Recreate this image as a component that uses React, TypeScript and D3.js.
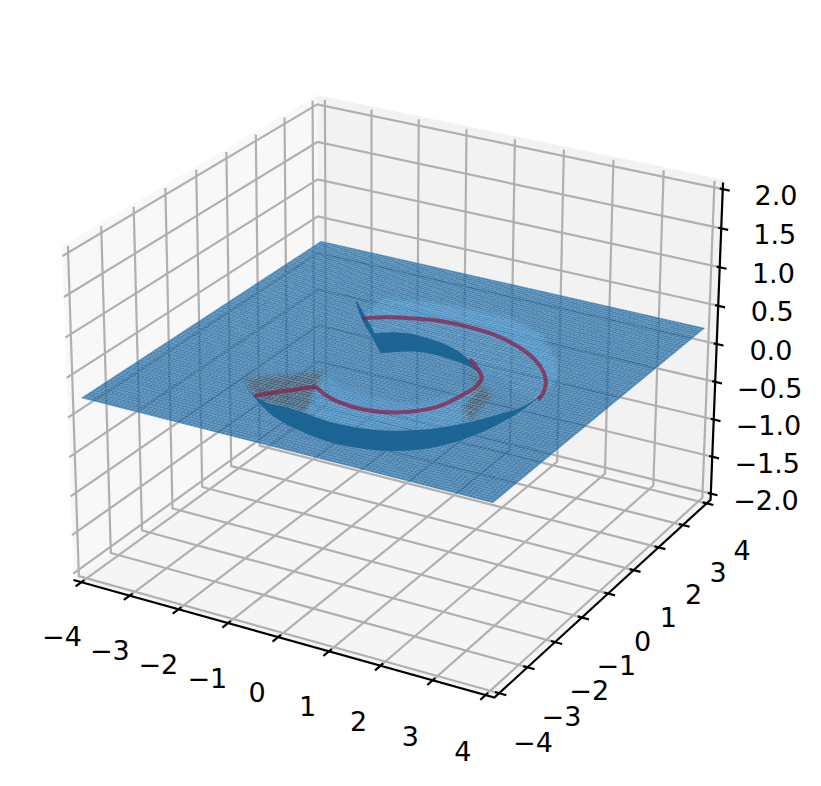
import React from "react";
import * as d3 from "d3";

const xTicks = [-4,-3,-2,-1,0,1,2,3,4];
const yTicks = [-4,-3,-2,-1,0,1,2,3,4];
const zTicks = [-2,-1.5,-1,-0.5,0,0.5,1,1.5,2];
type Pt=[number,number];
// curve and fold outlines, in data units on the surface
const redOuter:Pt[]=[[-1.45,1.27],[-1.38,1.37],[-1.09,1.57],[-0.65,1.76],[-0.17,1.90],[0.36,1.92],[0.95,1.84],[1.54,1.61],[2.06,1.26],[2.45,0.85],[2.67,0.50],[2.82,0.11],[2.87,-0.17]];
const redInner:Pt[]=[[-1.42,-2.45],[-1.15,-2.10],[-0.70,-1.61],[-0.38,-1.82],[-0.03,-1.95],[0.46,-2.00],[0.91,-1.87],[1.28,-1.60],[1.55,-1.16],[1.65,-0.64],[1.69,-0.23],[1.60,0.14],[1.35,0.45],[1.05,0.71]];
const frontWallLower:Pt[]=[[-1.99,-1.96],[-1.36,-2.53],[-0.76,-2.96],[-0.14,-3.21],[0.61,-3.37],[1.23,-3.31],[1.85,-3.05],[2.26,-2.64],[2.56,-2.02],[2.73,-1.40],[2.82,-0.74],[2.84,0.12]];
const frontWallUpper:Pt[]=[[2.84,0.12],[2.77,-0.54],[2.54,-1.05],[2.21,-1.63],[1.83,-2.10],[1.37,-2.44],[0.84,-2.64],[0.21,-2.70],[-0.30,-2.62],[-0.74,-2.56],[-1.05,-2.59],[-1.42,-2.45],[-1.99,-1.96]];
const upperWallTop:Pt[]=[[-0.94,0.84],[-0.65,1.06],[-0.22,1.14],[0.37,1.05],[0.93,0.77],[1.55,0.24]];
const upperWallBottom:Pt[]=[[1.55,0.24],[1.19,0.44],[0.65,0.56],[0.07,0.52],[-0.43,0.15]];
const upperWallTip:Pt[]=[[-0.43,0.15],[-0.92,0.69],[-1.43,1.23],[-1.97,1.93],[-1.50,1.44],[-0.94,0.84]];
const outerSlope:Pt[]=[[-1.61,2.23],[-0.80,2.52],[-0.03,2.63],[0.86,2.63],[1.66,2.26],[2.43,1.39],[2.75,0.78],[2.83,0.20]];
const grayRight:Pt[]=[[1.19,0.20],[2.10,-0.38],[2.25,-1.53],[1.85,-0.99],[1.75,-0.27],[1.69,-0.23],[1.60,0.14]];
const grayLeft:Pt[]=[[-1.96,-1.94],[-0.87,-1.00],[-0.70,-1.61],[-0.31,-2.55],[-1.05,-2.59],[-1.42,-2.45]];
const innerSlope:Pt[]=[[-0.86,-1.07],[-0.69,-1.13],[-0.25,-1.42],[0.28,-1.47],[0.80,-1.45],[1.13,-1.33],[1.42,-0.93],[1.56,-0.46]];
const lowerSlopeEdge:Pt[]=[[2.25,-1.53],[1.83,-2.10],[1.37,-2.44],[0.84,-2.64],[0.21,-2.70],[-0.30,-2.62]];
const upperInnerEdge:Pt[]=[[2.55,-0.12],[1.76,0.37],[1.55,0.24],[0.93,0.77],[0.37,1.05],[-0.22,1.14],[-0.65,1.06],[-0.94,0.84]];

const EX = 4+8/48, EZ = 2+4/48;
const PZ = 0.228;
const FOLD_DX = -0.06;
// perspective camera fitted to the picture: rows give screen x, screen y, depth
const CAM = [[386.24,272.67,-3.3,81],[78.71,-132.47,-83.2,398],[-0.05226,0.10177,-0.009,1]];
const uS=d3.scaleLinear().domain([-4,4]).range([0,1]);
const vS=d3.scaleLinear().domain([-4,4]).range([0,1]);
const sS=d3.scaleLinear().domain([PZ,PZ+1]).range([0,1]);
const P=(x:number,y:number,z:number):[number,number]=>{
  const q=[uS(x),vS(y),sS(z),1];
  const r=CAM.map(row=>d3.sum(row.map((c,i)=>c*q[i])));
  return [r[0]/r[2],r[1]/r[2]];
};
const fmt=(v:number)=>(v<0?"\u2212":"")+Math.abs(v);
const fmtZ=(v:number)=>(v<0?"\u2212":"")+Math.abs(v).toFixed(1);
const line=d3.line();
const curve=d3.line().curve(d3.curveCatmullRom.alpha(0.5));
const poly=(pts:[number,number,number][])=>line(pts.map(p=>P(p[0],p[1],p[2])))+"Z";
const on=(pts:Pt[])=>pts.map(p=>P(p[0]+FOLD_DX,p[1],PZ));
const area=(pts:Pt[])=>line(on(pts))+"Z";
const arcs=(...parts:Pt[][])=>parts.map((p,i)=>{const s=curve(on(p))!;return i===0?s:s.replace(/^M/,"L")}).join("")+"Z";
const G=EX, D=EX, DZ=EZ+.04;
const mesh=d3.range(-4,4.001,0.08);
const coarse=d3.range(-4,4.001,0.24);
const rev=(a:Pt[])=>[...a].reverse();
export default function App(){
 const mx=mesh.map(v=>line([P(v,-4,PZ),P(v,4,PZ)])).join("");
 const my=mesh.map(v=>line([P(-4,v,PZ),P(4,v,PZ)])).join("");
 const cx=coarse.map(v=>line([P(v,-4,PZ),P(v,4,PZ)])).join("");
 const cy=coarse.map(v=>line([P(-4,v,PZ),P(4,v,PZ)])).join("");
 return <svg width={821} height={786} style={{position:"absolute",left:0,top:0,background:"#fff",fontFamily:"DejaVu Sans"}}>
  <defs>
   <filter id="soft" x="-20%" y="-20%" width="140%" height="140%"><feGaussianBlur stdDeviation={2}/></filter>
   <clipPath id="grayClip"><path d={area(grayRight)}/><path d={area(grayLeft)}/></clipPath>
   <clipPath id="ringClip"><path d={area([...outerSlope,...rev(redOuter)])}/><path d={area([...redOuter,...upperInnerEdge])}/><path d={area([...redInner.slice(2,12),...lowerSlopeEdge])}/></clipPath>
  </defs>
  <path d={poly([[-D,-D,-EZ],[-D,D,-EZ],[-D,D,DZ],[-D,-D,DZ]])} fill="#f2f2f2" fillOpacity={.5}/>
  <path d={poly([[-D,D,-EZ],[D,D,-EZ],[D,D,DZ],[-D,D,DZ]])} fill="#e6e6e6" fillOpacity={.5}/>
  <path d={poly([[-D,-D,-EZ],[D,-D,-EZ],[D,D,-EZ],[-D,D,-EZ]])} fill="#ececec" fillOpacity={.5}/>
  <g fill="none" stroke="#b0b0b0" strokeWidth={2.2}>
   {xTicks.map(t=><path key={t} d={line([P(t,-G,-EZ),P(t,G,-EZ),P(t,G,EZ)])!}/>)}
   {yTicks.map(t=><path key={t} d={line([P(G,t,-EZ),P(-G,t,-EZ),P(-G,t,EZ)])!}/>)}
   {zTicks.map(t=><path key={t} d={line([P(-G,-G,t),P(-G,G,t),P(G,G,t)])!}/>)}
  </g>
  <g fill="none" stroke="#000" strokeWidth={2.2}>
   <path d={line([P(-G,-G,-EZ),P(G,-G,-EZ),P(G,G,-EZ),P(G,G,EZ)])!}/>
   {xTicks.map(t=><path key={t} d={line([P(t,-G+.09,-EZ),P(t,-G-.18,-EZ)])!}/>)}
   {yTicks.map(t=><path key={t} d={line([P(G-.08,t,-EZ),P(G+.135,t,-EZ)])!}/>)}
   {zTicks.map(t=><path key={t} d={line([P(G-.06,G,t),P(G+.135,G,t)])!}/>)}
  </g>
  <g fontSize={27} fill="#000" textAnchor="middle">
   {xTicks.map(t=>{const p=P(t,-G,-EZ);return <text key={t} x={p[0]-21-.39*t} y={p[1]+55+.25*t} dy=".36em">{fmt(t)}</text>})}
   {yTicks.map(t=>{const p=P(G,t,-EZ);return <text key={t} x={p[0]+34.6+.19*t} y={p[1]+47.8-.26*t} dy=".36em">{fmt(t)}</text>})}
   {zTicks.map(t=>{const p=P(G,G,t);return <text key={t} x={p[0]+54.2-.5*t} y={p[1]+6-.12*t} dy=".36em">{fmtZ(t)}</text>})}
  </g>
  <path d={poly([[-4,-4,PZ],[4,-4,PZ],[4,4,PZ],[-4,4,PZ]])} fill="#0a5590" fillOpacity={.72}/>
  <g stroke="none" filter="url(#soft)">
   <path d={area([...outerSlope,...rev(redOuter)])} fill="#5aa9e0" fillOpacity={.4}/>
   <path d={area([...redOuter,...upperInnerEdge])} fill="#5aa9e0" fillOpacity={.12}/>
   <path d={area([[-0.70,-1.61],...innerSlope,...rev(redInner.slice(3,10))])} fill="#5aa9e0" fillOpacity={.3}/>
   <path d={area([...redInner.slice(2,12),...lowerSlopeEdge])} fill="#5aa9e0" fillOpacity={.3}/>
   <path d={area(grayRight)} fill="#46545f" fillOpacity={.7}/>
   <path d={area(grayLeft)} fill="#46545f" fillOpacity={.7}/>
  </g>
  <path d={mx+my} stroke="#b0d8f4" strokeOpacity={.24} strokeWidth={1} fill="none" shapeRendering="crispEdges"/>
  <path d={cx+cy} stroke="#d8ecf8" strokeOpacity={.12} strokeWidth={1} fill="none" clipPath="url(#grayClip)"/>
  <path d={cx+cy} stroke="#d8ecf8" strokeOpacity={.1} strokeWidth={1} fill="none" clipPath="url(#ringClip)"/>
  <path d={arcs(upperWallTop,upperWallBottom,upperWallTip)} fill="#1a6393" fillOpacity={.96}/>
  <path d={arcs(frontWallLower,frontWallUpper)} fill="#1a6393" fillOpacity={.96}/>
  <g fill="none" stroke="#8f1a45" strokeOpacity={.7} strokeWidth={4} strokeLinejoin="round">
   <path d={curve(on(redOuter))!}/>
   <path d={line(on(redInner.slice(0,3)))!}/>
   <path d={curve(on(redInner.slice(2)))!}/>
  </g>
 </svg>;
}
